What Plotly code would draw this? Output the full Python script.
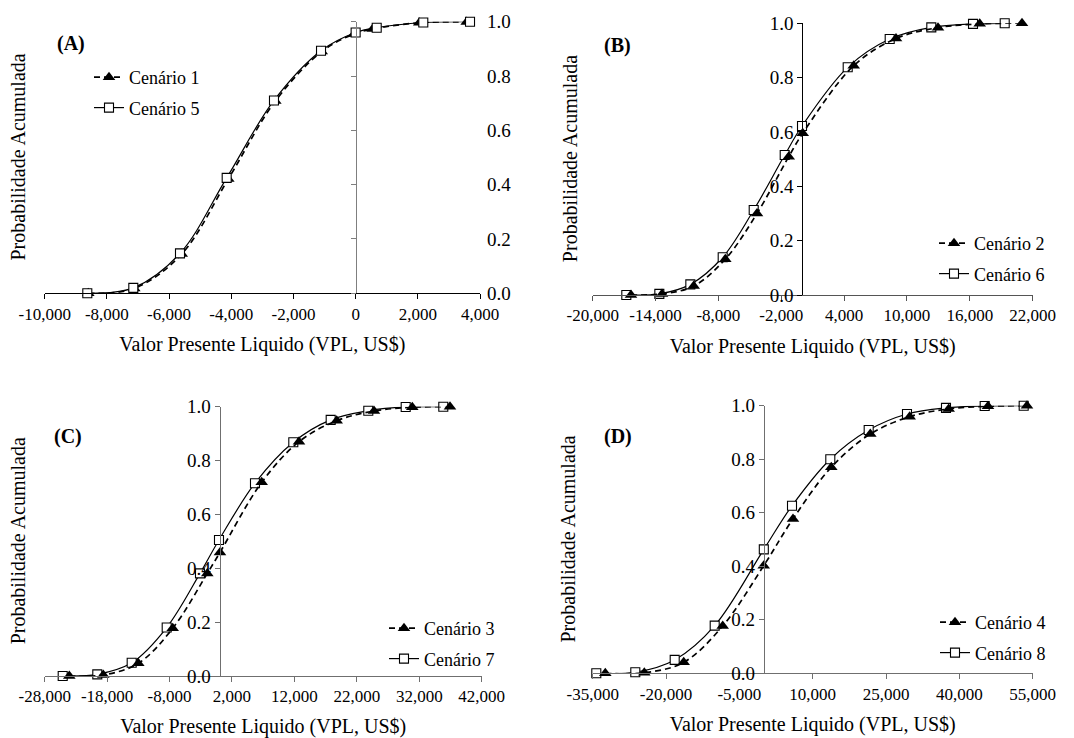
import plotly.graph_objects as go

W, H = 1074, 738
FONT = "'Liberation Serif', 'Times New Roman', 'DejaVu Serif', serif"

# ---------------- data ----------------
# Panel A
A_x_c1 = [-8598, -7118, -5594, -4095, -2583, -1091, -50, 549, 2048, 3572]
A_p_c1 = [0.0, 0.018, 0.145, 0.421, 0.708, 0.890, 0.955, 0.973, 0.996, 0.999]
A_x_c5 = [-8630, -7150, -5649, -4147, -2626, -1113, 0, 678, 2176, 3679]
A_p_c5 = [0.0, 0.020, 0.147, 0.425, 0.710, 0.893, 0.960, 0.978, 0.997, 1.0]

# Panel B
B_x_c2 = [-16344, -13385, -10359, -7342, -4317, -1291, 46, 4914, 8952, 12961, 16942, 20979]
B_p_c2 = [0.0, 0.004, 0.033, 0.132, 0.300, 0.509, 0.595, 0.844, 0.944, 0.984, 0.998, 1.0]
B_x_c6 = [-16792, -13639, -10680, -7591, -4631, -1672, -20, 4341, 8350, 12322, 16302, 19328]
B_p_c6 = [0.0, 0.004, 0.039, 0.139, 0.313, 0.515, 0.622, 0.838, 0.942, 0.985, 0.998, 1.0]

# Panel C
C_x_c3 = [-24060, -18613, -13007, -7497, -1955, 79, 6758, 12733, 18772, 24747, 30882, 36920]
C_p_c3 = [0.0, 0.004, 0.047, 0.177, 0.381, 0.459, 0.719, 0.870, 0.948, 0.984, 0.998, 1.0]
C_x_c7 = [-25117, -19575, -14065, -8458, -3125, -81, 5685, 11821, 17811, 23834, 29825, 35847]
C_p_c7 = [0.0, 0.006, 0.049, 0.180, 0.381, 0.505, 0.716, 0.868, 0.951, 0.985, 0.999, 1.0]

# Panel D
D_x_c4 = [-32423, -24446, -16387, -8410, -23, 5970, 13804, 21780, 29839, 37816, 45855, 53832]
D_p_c4 = [0.0, 0.002, 0.041, 0.177, 0.402, 0.577, 0.770, 0.894, 0.959, 0.988, 0.998, 1.0]
D_x_c8 = [-34264, -26287, -18228, -10046, 0, 5765, 13599, 21453, 29287, 37264, 45180, 53157]
D_p_c8 = [0.0, 0.004, 0.050, 0.178, 0.463, 0.626, 0.800, 0.909, 0.969, 0.992, 0.999, 1.0]

# Tick values
XT_A = [-10000, -8000, -6000, -4000, -2000, 0, 2000, 4000]
XT_B = [-20000, -14000, -8000, -2000, 4000, 10000, 16000, 22000]
XT_C = [-28000, -18000, -8000, 2000, 12000, 22000, 32000, 42000]
XT_D = [-35000, -20000, -5000, 10000, 25000, 40000, 55000]
YT = [0.0, 0.2, 0.4, 0.6, 0.8, 1.0]

PANEL_LABELS = ["(A)", "(B)", "(C)", "(D)"]
SERIES_NAMES = [("Cenário 1", "Cenário 5"), ("Cenário 2", "Cenário 6"),
                ("Cenário 3", "Cenário 7"), ("Cenário 4", "Cenário 8")]
X_TITLE = "Valor Presente Liquido (VPL, US$)"
Y_TITLE = "Probabilidade Acumulada"


def fmt_x(v):
    return f"{v:,}"


def fmt_y(v):
    return f"{v:.1f}"


# ---------------- layout geometry (pixels) ----------------
panels = [
    dict(xd=(44.7, 480.0), yd=(21.7, 293.3), xr=(-10000, 4000), xt=XT_A,
         tri=(A_x_c1, A_p_c1), sq=(A_x_c5, A_p_c5), ycol="#7f7f7f", xcol="#000000",
         ytitle_x=18, label=(55, 43), leg=(89, 59), labels_right=True),
    dict(xd=(592.7, 1032.7), yd=(23.3, 295.0), xr=(-20000, 22000), xt=XT_B,
         tri=(B_x_c2, B_p_c2), sq=(B_x_c6, B_p_c6), ycol="#000000", xcol="#555555",
         ytitle_x=570, label=(602, 45), leg=(934, 225), labels_right=False),
    dict(xd=(44.7, 481.7), yd=(406.7, 676.0), xr=(-28000, 42000), xt=XT_C,
         tri=(C_x_c3, C_p_c3), sq=(C_x_c7, C_p_c7), ycol="#6f6f6f", xcol="#6f6f6f",
         ytitle_x=18, label=(52, 436), leg=(384, 610), labels_right=False),
    dict(xd=(592.7, 1032.7), yd=(405.7, 673.3), xr=(-35000, 55000), xt=XT_D,
         tri=(D_x_c4, D_p_c4), sq=(D_x_c8, D_p_c8), ycol="#6f6f6f", xcol="#6f6f6f",
         ytitle_x=567, label=(602, 436), leg=(935, 604), labels_right=False),
]

fig = go.Figure()
annotations = []
layout = dict(
    width=W, height=H,
    margin=dict(l=0, r=0, t=0, b=0, pad=0, autoexpand=False),
    paper_bgcolor="white", plot_bgcolor="white",
    font=dict(family=FONT, size=18, color="black"),
    showlegend=True,
)

for i, p in enumerate(panels, start=1):
    sfx = "" if i == 1 else str(i)
    xname, yname = "x" + sfx, "y" + sfx
    legname = "legend" + sfx
    xdom = [p["xd"][0] / W, p["xd"][1] / W]
    ydom = [1 - p["yd"][1] / H, 1 - p["yd"][0] / H]
    x0, x1 = p["xr"]
    zero_pos = xdom[0] + (0 - x0) / (x1 - x0) * (xdom[1] - xdom[0])

    # in panel A the labels sit on a right-side twin axis that carries the square series
    sq_y = "y5" if p["labels_right"] else yname

    n_tri, n_sq = SERIES_NAMES[i - 1]
    # squares (solid) drawn first, triangles (dashed) on top
    fig.add_trace(go.Scatter(
        x=p["sq"][0], y=p["sq"][1], name=n_sq, mode="lines+markers",
        xaxis=xname, yaxis=sq_y, legend=legname, legendgroup=f"sq{i}", legendrank=2,
        line=dict(color="black", width=1.2, shape="spline", smoothing=1.0),
        marker=dict(symbol="square", size=9, color="white", line=dict(color="black", width=1.1)),
        cliponaxis=False,
    ))
    fig.add_trace(go.Scatter(
        x=p["tri"][0], y=p["tri"][1], name=n_tri, mode="lines+markers",
        xaxis=xname, yaxis=yname, legend=legname, legendgroup=f"tri{i}", legendrank=1,
        line=dict(color="black", width=1.7, dash="6px,4px", shape="spline", smoothing=1.0),
        marker=dict(symbol="triangle-up", size=11, color="black", line=dict(width=0)),
        cliponaxis=False,
    ))

    layout["xaxis" + sfx] = dict(
        domain=xdom, range=[x0, x1], anchor=yname, automargin=False,
        tickmode="array", tickvals=p["xt"], ticktext=[fmt_x(v) for v in p["xt"]],
        ticks="outside", ticklen=5, tickcolor=p["xcol"], tickwidth=1,
        showline=True, linecolor=p["xcol"], linewidth=1,
        showgrid=False, zeroline=False,
        tickfont=dict(family=FONT, size=17, color="black"),
        title=dict(text=X_TITLE, font=dict(family=FONT, size=20, color="black"), standoff=14),
    )
    ycommon = dict(
        range=[0, 1], tickmode="array", tickvals=YT, automargin=False,
        showgrid=False, zeroline=False,
        tickfont=dict(family=FONT, size=19, color="black"),
    )
    if p["labels_right"]:
        # axis line and ticks at x = 0, no labels
        layout["yaxis" + sfx] = dict(
            domain=ydom, anchor="free", position=zero_pos, side="left",
            showline=True, linecolor=p["ycol"], linewidth=1,
            ticks="outside", ticklen=5, tickcolor=p["ycol"], showticklabels=False,
            **ycommon)
        # labels at the right ("high") side
        layout["yaxis5"] = dict(
            overlaying=yname, anchor=xname, side="right", showline=False, ticks="",
            ticktext=[fmt_y(v) for v in YT], ticklabelstandoff=6, **ycommon)
    else:
        layout["yaxis" + sfx] = dict(
            domain=ydom, anchor="free", position=zero_pos, side="left",
            showline=True, linecolor=p["ycol"], linewidth=1,
            ticks="outside", ticklen=5, tickcolor=p["ycol"],
            ticktext=[fmt_y(v) for v in YT], **ycommon)

    layout[legname] = dict(
        x=p["leg"][0] / W, y=1 - p["leg"][1] / H, xanchor="left", yanchor="top",
        bgcolor="rgba(0,0,0,0)", borderwidth=0, traceorder="grouped", tracegroupgap=4,
        font=dict(family=FONT, size=18, color="black"),
    )

    annotations.append(dict(
        text=Y_TITLE, textangle=-90, xref="paper", yref="paper",
        x=p["ytitle_x"] / W, y=(ydom[0] + ydom[1]) / 2, xanchor="center", yanchor="middle",
        showarrow=False, font=dict(family=FONT, size=20, color="black"),
    ))
    annotations.append(dict(
        text="<b>" + PANEL_LABELS[i - 1] + "</b>", xref="paper", yref="paper",
        x=p["label"][0] / W, y=1 - p["label"][1] / H, xanchor="left", yanchor="middle",
        showarrow=False, font=dict(family=FONT, size=20, color="black"),
    ))

layout["annotations"] = annotations
fig.update_layout(**layout)
fig.write_html(
    "out.html",
    config={"displayModeBar": False},
    post_script="document.body.style.margin='0px'; document.body.style.overflow='hidden';",
)
